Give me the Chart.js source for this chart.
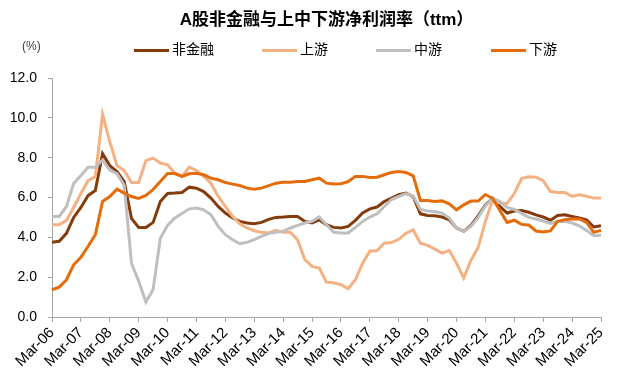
<!DOCTYPE html>
<html>
<head>
<meta charset="utf-8">
<script src="https://cdn.jsdelivr.net/npm/chart.js@4"></script>
<style>
    body { margin: 0; background: #fff; }
    #wrap { position: relative; width: 620px; height: 386px; font-family: "Liberation Sans", "Noto Sans CJK SC", sans-serif; }
    #title { position: absolute; left: 52px; width: 549px; top: 5px; text-align: center; font-size: 17px; font-weight: bold; color: #000; }
    #unit { position: absolute; left: 22px; top: 39px; font-size: 12px; color: #404040; }
    .leg { position: absolute; top: 38px; font-size: 14px; color: #000; white-space: nowrap; }
    .leg span { display: inline-block; width: 35px; height: 3px; margin-right: 3px; vertical-align: middle; }
</style>
</head>
<body>
<div id="wrap">
    <canvas id="chart"></canvas>
    <div id="title">A股非金融与上中下游净利润率（ttm）</div>
    <div id="unit">(%)</div>
</div>
<script>
// Données (trimestrielles, Mar-06 -> Mar-25)
const years = ['06','07','08','09','10','11','12','13','14','15','16','17','18','19','20','21','22','23','24','25'];
const months = ['Mar', 'Jun', 'Sep', 'Dec'];
const labels = [];
years.forEach(function(y) {
    months.forEach(function(m) {
        if (y !== '25' || m === 'Mar') labels.push(m + '-' + y);
    });
});

const yTicks = [0, 2, 4, 6, 8, 10, 12];

const nonFin = [3.75, 3.8, 4.2, 5.0, 5.5, 6.1, 6.35, 8.2, 7.6, 7.3, 6.8, 4.95, 4.5, 4.5, 4.75, 5.8,
    6.2, 6.22, 6.25, 6.52, 6.47, 6.3, 5.97, 5.55, 5.22, 4.97, 4.8, 4.72, 4.68, 4.75, 4.9, 5.0,
    5.02, 5.05, 5.05, 4.8, 4.72, 4.88, 4.63, 4.5, 4.47, 4.55, 4.85, 5.22, 5.43, 5.52, 5.8, 5.97,
    6.14, 6.22, 6.05, 5.18, 5.1, 5.08, 5.02, 4.88, 4.47, 4.3, 4.6, 5.08, 5.63, 5.97, 5.55, 5.22,
    5.32, 5.35, 5.26, 5.13, 5.02, 4.86, 5.1, 5.13, 5.05, 4.97, 4.88, 4.52, 4.58];

const upstream = [4.63, 4.63, 4.85, 5.5, 6.2, 6.85, 7.05, 10.18, 8.8, 7.6, 7.35, 6.75, 6.75, 7.85, 7.98, 7.73,
    7.64, 7.22, 7.06, 7.53, 7.36, 7.06, 6.72, 6.06, 5.55, 5.05, 4.68, 4.47, 4.33, 4.25, 4.22, 4.35,
    4.25, 4.25, 3.88, 2.88, 2.54, 2.46, 1.75, 1.72, 1.62, 1.42, 1.87, 2.7, 3.3, 3.34, 3.7, 3.74,
    3.9, 4.2, 4.37, 3.7, 3.6, 3.41, 3.21, 3.34, 2.7, 1.95, 2.85, 3.5, 4.8, 5.88, 5.72, 5.7,
    6.2, 6.95, 7.04, 7.02, 6.85, 6.3, 6.25, 6.25, 6.06, 6.14, 6.06, 5.97, 5.97];

const midstream = [5.05, 5.05, 5.55, 6.7, 7.1, 7.52, 7.52, 7.88, 7.38, 7.2, 6.6, 2.7, 1.8, 0.75, 1.38, 3.96,
    4.6, 4.97, 5.2, 5.43, 5.47, 5.38, 5.13, 4.55, 4.13, 3.88, 3.68, 3.75, 3.88, 4.05, 4.2, 4.25,
    4.3, 4.47, 4.6, 4.72, 4.8, 5.02, 4.63, 4.25, 4.22, 4.22, 4.5, 4.8, 5.02, 5.18, 5.55, 5.9,
    6.05, 6.2, 6.08, 5.4, 5.32, 5.3, 5.22, 4.97, 4.47, 4.3, 4.55, 5.0, 5.58, 5.97, 5.8, 5.5,
    5.4, 5.2, 5.0, 4.92, 4.82, 4.7, 4.8, 4.8, 4.72, 4.58, 4.35, 4.08, 4.1];

const downstream = [1.37, 1.5, 1.87, 2.62, 3.0, 3.55, 4.13, 5.8, 6.05, 6.42, 6.22, 6.05, 5.95, 6.1, 6.4, 6.8,
    7.2, 7.2, 7.06, 7.19, 7.22, 7.14, 6.97, 6.89, 6.75, 6.67, 6.6, 6.47, 6.42, 6.47, 6.6, 6.72,
    6.77, 6.77, 6.8, 6.8, 6.89, 6.97, 6.72, 6.68, 6.69, 6.8, 7.06, 7.06, 7.0, 7.02, 7.14, 7.26,
    7.31, 7.26, 7.09, 5.85, 5.85, 5.8, 5.83, 5.68, 5.38, 5.63, 5.82, 5.82, 6.15, 5.95, 5.35, 4.75,
    4.86, 4.65, 4.62, 4.32, 4.27, 4.32, 4.8, 4.88, 4.92, 4.92, 4.75, 4.25, 4.35];

const seriesNames = ['非金融', '上游', '中游', '下游'];
const seriesColors = ['#843C0C', '#F4B183', '#BFBFBF', '#E46C0A'];
const seriesData = [nonFin, upstream, midstream, downstream];

document.addEventListener('DOMContentLoaded', function() {
    const wrap = document.getElementById('wrap');

    // légende HTML
    const legendX = [134, 262, 376, 491];
    seriesNames.forEach(function(name, i) {
        const item = document.createElement('div');
        item.className = 'leg';
        item.style.left = legendX[i] + 'px';
        item.innerHTML = '<span style="background:' + seriesColors[i] + '"></span>' + name;
        wrap.appendChild(item);
    });

    const axisColor = '#A6A6A6';
    const isMar = function(i) { return labels[i] && labels[i].indexOf('Mar') === 0; };

    const ctx = document.getElementById('chart').getContext('2d');
    new Chart(ctx, {
        type: 'line',
        data: {
            labels: labels,
            datasets: seriesData.map(function(d, i) {
                return {
                    label: seriesNames[i],
                    data: d,
                    borderColor: seriesColors[i],
                    borderWidth: 3,
                    pointRadius: 0,
                    tension: 0,
                    order: 4 - i
                };
            })
        },
        options: {
            responsive: true,
            maintainAspectRatio: false,
            animation: false,
            layout: { padding: { top: 78, right: 19, left: 0, bottom: 0 } },
            plugins: {
                legend: { display: false },
                tooltip: { enabled: false }
            },
            scales: {
                x: {
                    offset: false,
                    grid: {
                        drawOnChartArea: false,
                        tickLength: 5,
                        color: function(c) { return isMar(c.index) ? axisColor : 'rgba(0,0,0,0)'; }
                    },
                    border: { color: axisColor },
                    ticks: {
                        autoSkip: false,
                        minRotation: 45,
                        maxRotation: 45,
                        padding: 2,
                        color: '#000',
                        font: { family: '"Liberation Sans", sans-serif', size: 15 },
                        callback: function(v, i) { return isMar(i) ? labels[i] : ''; }
                    },
                    afterFit: function(s) { s.height = 69; }
                },
                y: {
                    min: 0,
                    max: 12,
                    afterBuildTicks: function(s) { s.ticks = yTicks.map(function(v) { return { value: v }; }); },
                    grid: { drawOnChartArea: false, tickLength: 4, color: axisColor },
                    border: { color: axisColor },
                    ticks: {
                        padding: 11,
                        color: '#000',
                        font: { family: '"Liberation Sans", sans-serif', size: 14 },
                        callback: function(v) { return v.toFixed(1); }
                    },
                    afterFit: function(s) { s.width = 52; }
                }
            }
        }
    });
});
</script>
</body>
</html>
